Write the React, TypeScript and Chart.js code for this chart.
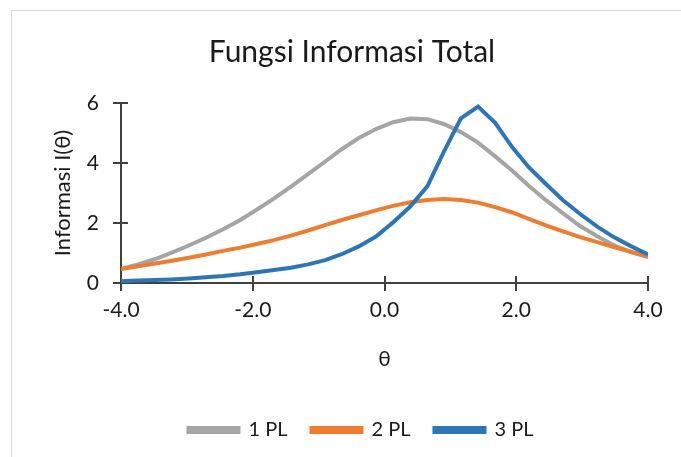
import React, { useEffect, useRef } from "react";
import { Chart, registerables } from "chart.js";

Chart.register(...registerables);

const chartTitle = "Fungsi Informasi Total";
const xAxisTitle = "θ";
const yAxisTitle = "Informasi I(θ)";
const seriesNames = ["1 PL", "2 PL", "3 PL"];
const seriesColors = ["#A5A5A5", "#ED7D31", "#2E75B6"];

const thetaValues = [
  -4.0, -3.74, -3.48, -3.23, -2.97, -2.71, -2.45, -2.19, -1.94, -1.68, -1.42, -1.16, -0.9, -0.65, -0.39, -0.13,
  0.13, 0.39, 0.65, 0.9, 1.16, 1.42, 1.68, 1.94, 2.19, 2.45, 2.71, 2.97, 3.23, 3.48, 3.74, 4.0,
];

const info1PL = [
  0.47, 0.62, 0.8, 1.01, 1.25, 1.51, 1.79, 2.1, 2.44, 2.81, 3.21, 3.63, 4.05, 4.46, 4.83, 5.13,
  5.36, 5.48, 5.46, 5.3, 5.03, 4.68, 4.22, 3.74, 3.24, 2.76, 2.32, 1.9, 1.56, 1.26, 1.03, 0.86,
];

const info2PL = [
  0.47, 0.56, 0.65, 0.74, 0.84, 0.95, 1.07, 1.18, 1.3, 1.43, 1.58, 1.75, 1.93, 2.1, 2.26, 2.42,
  2.57, 2.69, 2.77, 2.8, 2.77, 2.68, 2.53, 2.35, 2.14, 1.92, 1.72, 1.53, 1.36, 1.2, 1.04, 0.89,
];

const info3PL = [
  0.06, 0.08, 0.1, 0.12, 0.15, 0.19, 0.23, 0.29, 0.36, 0.43, 0.51, 0.62, 0.76, 0.96, 1.22, 1.55,
  2.02, 2.55, 3.22, 4.37, 5.49, 5.88, 5.34, 4.52, 3.86, 3.3, 2.76, 2.3, 1.88, 1.53, 1.23, 0.95,
];

const xTickMin = -4;
const xTickMax = 4;
const xTickStep = 2;
const yTickMin = 0;
const yTickMax = 6;
const yTickStep = 2;

const FONT = "Lato, 'Open Sans', sans-serif";
const AXIS_COLOR = "#404040";
const TEXT_COLOR = "#1a1a1a";

const crossTicks = {
  id: "crossTicks",
  afterLayout(chart: any) {
    const lg = chart.legend;
    if (lg) {
      lg.left += 37;
      lg.right += 37;
    }
    const tb = chart.titleBlock;
    if (tb) {
      tb.left += 28;
      tb.right += 28;
    }
  },
  beforeDatasetsDraw(chart: any) {
    const ctx = chart.ctx;
    const xs = chart.scales.x;
    const ys = chart.scales.y;
    const area = chart.chartArea;
    ctx.save();
    ctx.strokeStyle = AXIS_COLOR;
    ctx.lineWidth = 2;
    ctx.beginPath();
    xs.ticks.forEach((t: any) => {
      const px = Math.round(xs.getPixelForValue(t.value));
      ctx.moveTo(px, area.bottom - 7);
      ctx.lineTo(px, area.bottom + 8);
    });
    ys.ticks.forEach((t: any) => {
      const py = Math.round(ys.getPixelForValue(t.value));
      ctx.moveTo(area.left - 8, py);
      ctx.lineTo(area.left + 7, py);
    });
    ctx.stroke();
    ctx.restore();
  },
};

export default function App() {
  const canvasRef = useRef<HTMLCanvasElement | null>(null);

  useEffect(() => {
    const canvas = canvasRef.current;
    if (!canvas) return;
    const seriesValues = [info1PL, info2PL, info3PL];
    const chart = new Chart(canvas, {
      type: "line",
      data: {
        datasets: seriesValues.map((vals, i) => ({
          label: seriesNames[i],
          data: vals.map((v, k) => ({ x: thetaValues[k], y: v })),
          borderColor: seriesColors[i],
          backgroundColor: seriesColors[i],
          borderWidth: 4,
          pointRadius: 0,
          tension: 0,
          fill: false,
          order: seriesValues.length - i,
        })),
      },
      options: {
        animation: false,
        responsive: false,
        maintainAspectRatio: false,
        layout: { padding: { top: 0, right: 33, bottom: 7, left: 0 } },
        plugins: {
          tooltip: { enabled: false },
          title: {
            display: true,
            text: chartTitle,
            color: TEXT_COLOR,
            font: { family: FONT, size: 30, weight: "normal" },
            padding: { top: 34, bottom: 33 },
          },
          legend: {
            display: true,
            position: "bottom",
            labels: {
              sort: (a: any, b: any) => a.datasetIndex - b.datasetIndex,
              color: TEXT_COLOR,
              font: { family: FONT, size: 20 },
              boxWidth: 50,
              boxHeight: 4,
              padding: 24,
            },
          },
        },
        scales: {
          x: {
            type: "linear",
            min: xTickMin,
            max: xTickMax,
            afterFit: (s: any) => {
              s.height = 113;
            },
            ticks: {
              stepSize: xTickStep,
              color: TEXT_COLOR,
              font: { family: FONT, size: 21 },
              padding: 15,
              callback: (v: any) => Number(v).toFixed(1),
            },
            grid: { display: false, drawTicks: false },
            border: { display: true, color: AXIS_COLOR, width: 2 },
            title: {
              display: true,
              text: xAxisTitle,
              color: TEXT_COLOR,
              font: { family: FONT, size: 21 },
              padding: { top: 24, bottom: 24 },
            },
          },
          y: {
            type: "linear",
            min: yTickMin,
            max: yTickMax,
            afterFit: (s: any) => {
              s.width = 121;
            },
            ticks: {
              stepSize: yTickStep,
              color: TEXT_COLOR,
              font: { family: FONT, size: 21 },
              padding: 22,
            },
            grid: { display: false, drawTicks: false },
            border: { display: true, color: AXIS_COLOR, width: 2 },
            title: {
              display: true,
              text: yAxisTitle,
              color: TEXT_COLOR,
              font: { family: FONT, size: 22 },
              padding: { top: 50, bottom: 0 },
            },
          },
        },
      },
      plugins: [crossTicks],
    });
    return () => chart.destroy();
  }, []);

  return (
    <div
      style={{
        position: "fixed",
        left: 0,
        top: 0,
        width: 681,
        height: 457,
        background: "#fff",
        overflow: "hidden",
      }}
    >
      <div
        style={{
          position: "absolute",
          left: 11,
          top: 10,
          width: 720,
          height: 500,
          border: "1px solid #d9d9d9",
        }}
      />
      <canvas ref={canvasRef} width={681} height={457} style={{ position: "absolute", left: 0, top: 0 }} />
    </div>
  );
}
